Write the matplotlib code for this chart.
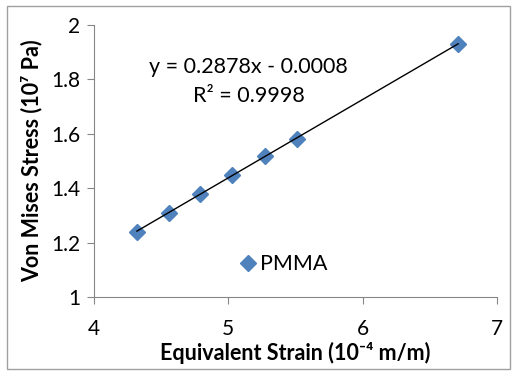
import matplotlib.pyplot as plt
import matplotlib.patches as patches
from matplotlib.ticker import FuncFormatter

# data
strain = [4.32, 4.56, 4.79, 5.03, 5.27, 5.51, 6.71]
stress = [1.24, 1.31, 1.38, 1.45, 1.52, 1.58, 1.93]
slope = 0.2878
intercept = -0.0008
x_ticks = [4, 5, 6, 7]
y_ticks = [1, 1.2, 1.4, 1.6, 1.8, 2]

plt.rcParams['font.family'] = ['Lato', 'DejaVu Sans']
grey = '#868686'
blue = '#4F81BD'

fig = plt.figure(figsize=(5.13, 3.71), dpi=100)
ax = fig.add_axes([0.183, 0.199, 0.786, 0.734])

ax.plot(strain, stress, 'D', color=blue, markersize=8.5, label='PMMA', zorder=2)
fit_x = [strain[0], strain[-1]]
fit_y = [slope * v + intercept for v in fit_x]
ax.plot(fit_x, fit_y, color='black', linewidth=1, zorder=3)

ax.set_xlim(4, 7)
ax.set_ylim(1, 2)
ax.set_xticks(x_ticks)
ax.set_yticks(y_ticks)
ax.yaxis.set_major_formatter(FuncFormatter(lambda v, p: '{:g}'.format(v)))
ax.tick_params(direction='out', length=5, color=grey, labelsize=15, pad=5)
ax.tick_params(axis='x', pad=11)
for s in ['top', 'right']:
    ax.spines[s].set_visible(False)
for s in ['left', 'bottom']:
    ax.spines[s].set_color(grey)

ax.set_xlabel('Equivalent Strain (10\u207b\u2074 m/m)', fontsize=15.5, fontweight='bold', labelpad=2)
ax.set_ylabel('Von Mises Stress (10\u2077 Pa)', fontsize=15.5, fontweight='bold', labelpad=6)

ax.text(5.15, 1.845, 'y = 0.2878x - 0.0008', fontsize=15.5, ha='center', va='center')
ax.text(5.15, 1.74, 'R\u00b2 = 0.9998', fontsize=15.5, ha='center', va='center')

ax.legend(loc='center left', bbox_to_anchor=(0.335, 0.12), frameon=False, fontsize=15.5,
          handletextpad=0.05, handlelength=1.0, borderaxespad=0)

fig.patches.append(patches.Rectangle((0.013, 0.005), 0.982, 0.98, transform=fig.transFigure,
                                     fill=False, edgecolor='#a0a0a0', linewidth=1))

fig.savefig('out.png', dpi=100)
